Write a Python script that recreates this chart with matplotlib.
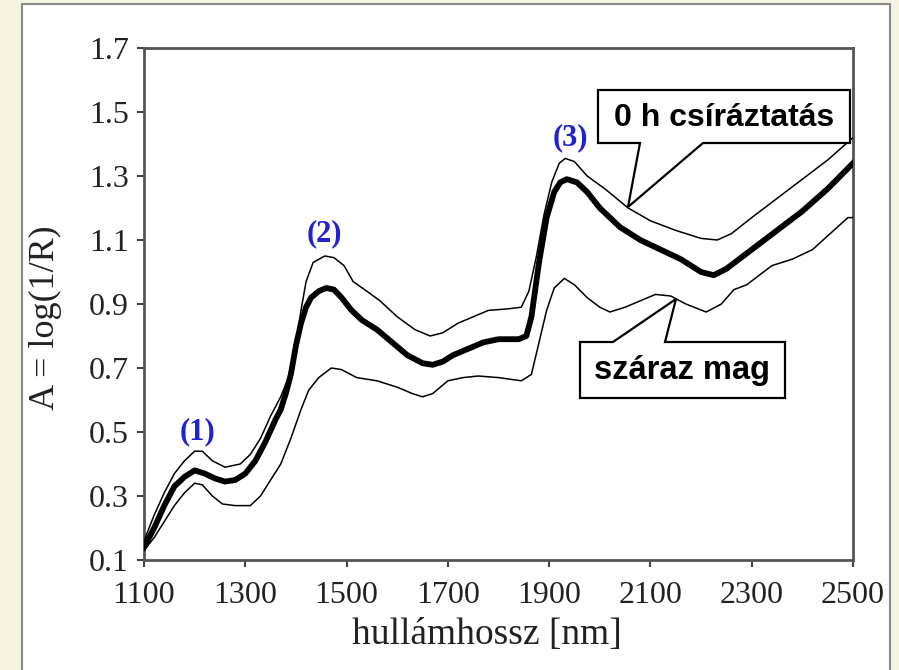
import matplotlib
matplotlib.use("Agg")
import matplotlib.pyplot as plt
from matplotlib.patches import Polygon, Rectangle

# ---------------- data ----------------
main_x = [1100, 1120, 1140, 1160, 1180, 1200, 1220, 1240, 1260, 1280, 1300, 1320, 1340,
          1360, 1370, 1380, 1390, 1400, 1410, 1420, 1430, 1445, 1460, 1475, 1490, 1510,
          1530, 1560, 1590, 1620, 1650, 1670, 1690, 1710, 1740, 1770, 1800, 1840, 1855,
          1865, 1880, 1895, 1910, 1922, 1935, 1955, 1975, 2000, 2040, 2080, 2120, 2160,
          2200, 2225, 2250, 2300, 2350, 2400, 2450, 2500]
main_y = [0.14, 0.20, 0.27, 0.33, 0.36, 0.38, 0.37, 0.355, 0.345, 0.35, 0.37, 0.41, 0.47,
          0.54, 0.57, 0.62, 0.68, 0.77, 0.84, 0.89, 0.92, 0.94, 0.95, 0.945, 0.92, 0.88,
          0.85, 0.82, 0.78, 0.74, 0.715, 0.71, 0.72, 0.74, 0.76, 0.78, 0.79, 0.79, 0.80,
          0.86, 1.03, 1.17, 1.25, 1.28, 1.29, 1.28, 1.25, 1.20, 1.14, 1.10, 1.07, 1.04,
          1.00, 0.99, 1.01, 1.07, 1.13, 1.19, 1.26, 1.34]

upper_x = [1100, 1120, 1140, 1160, 1180, 1200, 1215, 1235, 1260, 1290, 1310, 1330, 1350,
           1370, 1385, 1400, 1410, 1420, 1434, 1457, 1475, 1495, 1513, 1540, 1566, 1600,
           1635, 1665, 1690, 1720, 1750, 1780, 1820, 1845, 1860, 1875, 1890, 1905, 1920,
           1932, 1950, 1975, 2010, 2056, 2100, 2150, 2200, 2232, 2260, 2300, 2350, 2400,
           2450, 2500]
upper_y = [0.16, 0.24, 0.31, 0.37, 0.41, 0.44, 0.44, 0.41, 0.39, 0.40, 0.43, 0.48, 0.55,
           0.61, 0.67, 0.78, 0.88, 0.97, 1.03, 1.05, 1.045, 1.02, 0.97, 0.94, 0.91, 0.86,
           0.82, 0.80, 0.81, 0.84, 0.86, 0.88, 0.885, 0.89, 0.94, 1.05, 1.18, 1.28, 1.34,
           1.355, 1.345, 1.30, 1.26, 1.20, 1.16, 1.13, 1.105, 1.10, 1.12, 1.17, 1.23, 1.29,
           1.35, 1.42]

lower_x = [1100, 1120, 1140, 1160, 1180, 1200, 1215, 1235, 1255, 1280, 1310, 1330, 1350,
           1370, 1390, 1410, 1425, 1445, 1470, 1490, 1520, 1560, 1600, 1630, 1650, 1670,
           1700, 1730, 1760, 1800, 1845, 1865, 1880, 1895, 1910, 1930, 1950, 1975, 2000,
           2020, 2050, 2080, 2110, 2140, 2170, 2210, 2240, 2265, 2290, 2340, 2380, 2420,
           2455, 2490, 2500]
lower_y = [0.13, 0.17, 0.22, 0.27, 0.31, 0.34, 0.335, 0.30, 0.275, 0.27, 0.27, 0.30, 0.35,
           0.40, 0.48, 0.57, 0.63, 0.67, 0.70, 0.695, 0.67, 0.66, 0.64, 0.62, 0.61, 0.62,
           0.66, 0.67, 0.675, 0.67, 0.66, 0.68, 0.78, 0.88, 0.95, 0.98, 0.96, 0.92, 0.89,
           0.875, 0.89, 0.91, 0.93, 0.925, 0.90, 0.875, 0.90, 0.945, 0.96, 1.02, 1.04, 1.07,
           1.12, 1.17, 1.17]

peak_labels = ["(1)", "(2)", "(3)"]
peak_x = [1205, 1457, 1941]
peak_y = [0.50, 1.12, 1.42]

x_ticks = [1100, 1300, 1500, 1700, 1900, 2100, 2300, 2500]
y_ticks = [0.1, 0.3, 0.5, 0.7, 0.9, 1.1, 1.3, 1.5, 1.7]

xlabel = "hullámhossz [nm]"
ylabel = "A = log(1/R)"
callout_top = "0 h csíráztatás"
callout_bottom = "száraz mag"

# ---------------- figure ----------------
W, H = 899, 670
fig = plt.figure(figsize=(W / 100, H / 100), dpi=100, facecolor="#f5f3e1")

def fx(px):
    return px / W

def fy(py):
    return 1 - py / H

# white page with grey frame
fig.add_artist(Rectangle((fx(22), fy(672)), fx(890) - fx(22), fy(4) - fy(672),
                         transform=fig.transFigure, facecolor="white",
                         edgecolor="#8a8a8a", linewidth=1.5, zorder=0))

ax = fig.add_axes([fx(144), fy(560), fx(853) - fx(144), fy(48) - fy(560)])
ax.set_facecolor("white")

ax.plot(lower_x, lower_y, color="black", lw=1.1, zorder=3, solid_joinstyle="round")
ax.plot(upper_x, upper_y, color="black", lw=1.1, zorder=3, solid_joinstyle="round")
ax.plot(main_x, main_y, color="black", lw=4.2, zorder=3, solid_joinstyle="round")

ax.set_xlim(1100, 2500)
ax.set_ylim(0.1, 1.7)
ax.set_xticks(x_ticks)
ax.set_yticks(y_ticks)
ax.set_xticklabels([str(v) for v in x_ticks])
ax.set_yticklabels([f"{v:.1f}" for v in y_ticks])

serif = "Liberation Serif"
for lab in ax.get_xticklabels() + ax.get_yticklabels():
    lab.set_fontfamily(serif)
    lab.set_fontsize(23)
    lab.set_color("#222222")
ax.tick_params(axis="both", direction="out", length=5, width=1.5, color="#444444")
ax.tick_params(axis="x", pad=10)
ax.tick_params(axis="y", pad=6)
for s in ax.spines.values():
    s.set_color("#555555")
    s.set_linewidth(2)

ax.set_xlabel(xlabel, fontfamily=serif, fontsize=27, color="#222222")
ax.set_ylabel(ylabel, fontfamily=serif, fontsize=26, color="#222222")
ax.xaxis.set_label_coords((487 - 144) / 709, -(635 - 560) / 512)
ax.xaxis.label.set_va("center")
ax.yaxis.set_label_coords((45 - 144) / 709, (560 - 318) / 512)
ax.yaxis.label.set_va("center")

for t, xv, yv in zip(peak_labels, peak_x, peak_y):
    ax.text(xv, yv, t, fontfamily=serif, fontweight="bold", fontsize=22,
            color="#2222cc", ha="center", va="center", zorder=5)

# callout boxes (pixel geometry)
top_poly = [(598, 90), (850, 90), (850, 143), (703, 143), (628, 207), (640, 143), (598, 143)]
bot_poly = [(580, 342), (613, 342), (676, 299), (665, 342), (785, 342), (785, 398), (580, 398)]
for poly in (top_poly, bot_poly):
    fig.add_artist(Polygon([(fx(a), fy(b)) for a, b in poly], closed=True,
                           transform=fig.transFigure, facecolor="white",
                           edgecolor="black", linewidth=1.6, zorder=10))

fig.text(fx(724), fy(118), callout_top, fontfamily="Liberation Sans", fontweight="bold",
         fontsize=23, ha="center", va="center", zorder=11)
fig.text(fx(682), fy(371), callout_bottom, fontfamily="Liberation Sans", fontweight="bold",
         fontsize=23.5, ha="center", va="center", zorder=11)

fig.savefig("out.png", dpi=100, facecolor=fig.get_facecolor())
